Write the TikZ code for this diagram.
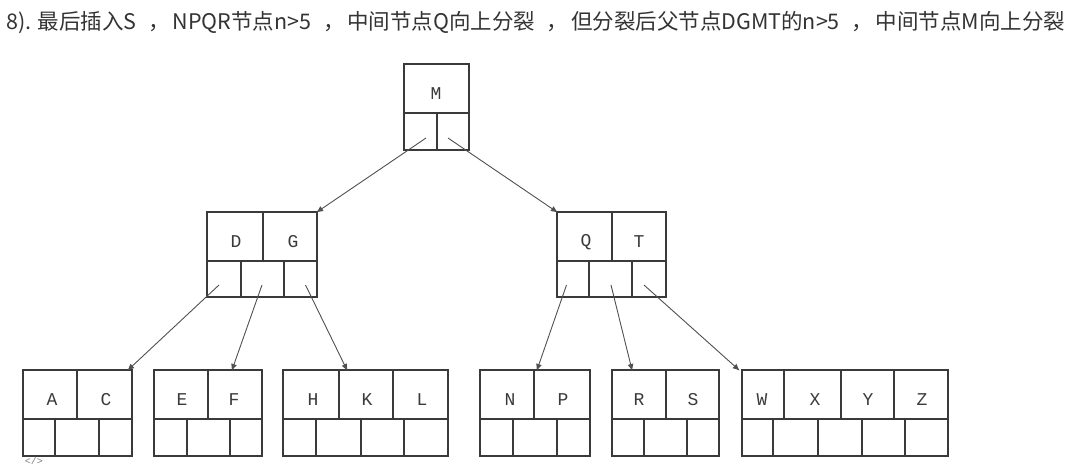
\documentclass[tikz,border=0pt]{standalone}
\usepackage{fontspec}
\usepackage{tikz}
\usetikzlibrary{arrows.meta}
\newfontfamily\cjk{Noto Sans CJK SC}
\newfontfamily\keyfont{Liberation Mono}
\definecolor{inkgray}{HTML}{3A3A3A}
\definecolor{arrowgray}{HTML}{505050}
\definecolor{titlegray}{HTML}{333333}
\newcommand{\zhcomma}{\makebox[1.67em][l]{\kern0.55em，}}

\tikzset{
  bnode/.style={draw=inkgray, line width=1.3pt, inner sep=0pt, outer sep=0pt},
  cellline/.style={draw=inkgray, line width=1.3pt},
  keytext/.style={font=\keyfont\fontsize{18}{18}\selectfont, text=inkgray, inner sep=0pt},
  ptrarrow/.style={draw=arrowgray, line width=0.9pt, -{Latex[length=7pt,width=6pt]}, shorten >=-1pt}
}

\begin{document}
\begin{tikzpicture}[x=1pt,y=-1pt]
\useasboundingbox (0,0) rectangle (1080,467);

%% Title line
\node[anchor=base west, inner sep=0pt, text=titlegray, font=\cjk\fontsize{21.5}{21.5}\selectfont] (title) at (6,29)
  {8). 最后插入S\zhcomma NPQR节点n>5\zhcomma 中间节点Q向上分裂\zhcomma 但分裂后父节点DGMT的n>5\zhcomma 中间节点M向上分裂};

%% Root: M
\node[bnode, minimum width=65pt, minimum height=86pt] (M) at (436.5,107) {};
\draw[cellline] (404,113) -- (469,113);
\draw[cellline] (437,113) -- (437,150);
\node[keytext] at (436,94) {M};
\coordinate (M-1) at (426,138);
\coordinate (M-2) at (448,138);

%% Level 1: D G
\node[bnode, minimum width=110pt, minimum height=85pt] (DG) at (262,254.5) {};
\draw[cellline] (207,261) -- (317,261);
\draw[cellline] (263,212) -- (263,261);
\draw[cellline] (241,261) -- (241,297);
\draw[cellline] (284,261) -- (284,297);
\node[keytext] at (236,242) {D};
\node[keytext] at (293,242) {G};
\coordinate (DG-1) at (219,285);
\coordinate (DG-2) at (262,285);
\coordinate (DG-3) at (305.5,285);

%% Level 1: Q T
\node[bnode, minimum width=109pt, minimum height=85pt] (QT) at (611.5,254.5) {};
\draw[cellline] (557,261) -- (666,261);
\draw[cellline] (612,212) -- (612,261);
\draw[cellline] (589,261) -- (589,297);
\draw[cellline] (632,261) -- (632,297);
\node[keytext] at (586,242) {Q};
\node[keytext] at (639,242) {T};
\coordinate (QT-1) at (566.5,285);
\coordinate (QT-2) at (611,285);
\coordinate (QT-3) at (644,285);

%% Leaves (top 370, middle 419, bottom 456)
% A C
\node[bnode, minimum width=109pt, minimum height=86pt] (AC) at (77.5,413) {};
\draw[cellline] (23,419) -- (132,419);
\draw[cellline] (77,370) -- (77,419);
\draw[cellline] (55,419) -- (55,456);
\draw[cellline] (99,419) -- (99,456);
\node[keytext] at (52,400) {A};
\node[keytext] at (106,400) {C};

% E F
\node[bnode, minimum width=108pt, minimum height=86pt] (EF) at (208,413) {};
\draw[cellline] (154,419) -- (262,419);
\draw[cellline] (208,370) -- (208,419);
\draw[cellline] (187,419) -- (187,456);
\draw[cellline] (230,419) -- (230,456);
\node[keytext] at (182,400) {E};
\node[keytext] at (234,400) {F};

% H K L
\node[bnode, minimum width=165pt, minimum height=86pt] (HKL) at (365.5,413) {};
\draw[cellline] (283,419) -- (448,419);
\draw[cellline] (339,370) -- (339,419);
\draw[cellline] (393,370) -- (393,419);
\draw[cellline] (316,419) -- (316,456);
\draw[cellline] (361,419) -- (361,456);
\draw[cellline] (404,419) -- (404,456);
\node[keytext] at (313,400) {H};
\node[keytext] at (367,400) {K};
\node[keytext] at (422,400) {L};

% N P
\node[bnode, minimum width=110pt, minimum height=86pt] (NP) at (535,413) {};
\draw[cellline] (480,419) -- (590,419);
\draw[cellline] (534,370) -- (534,419);
\draw[cellline] (513,419) -- (513,456);
\draw[cellline] (557,419) -- (557,456);
\node[keytext] at (510,400) {N};
\node[keytext] at (563,400) {P};

% R S
\node[bnode, minimum width=107pt, minimum height=86pt] (RS) at (665.5,413) {};
\draw[cellline] (612,419) -- (719,419);
\draw[cellline] (666,370) -- (666,419);
\draw[cellline] (644,419) -- (644,456);
\draw[cellline] (687,419) -- (687,456);
\node[keytext] at (639,400) {R};
\node[keytext] at (693,400) {S};

% W X Y Z
\node[bnode, minimum width=206pt, minimum height=86pt] (WXYZ) at (845,413) {};
\draw[cellline] (742,419) -- (948,419);
\foreach \xk in {784,841,894}
  \draw[cellline] (\xk,370) -- (\xk,419);
\foreach \xp in {773,818,862,905}
  \draw[cellline] (\xp,419) -- (\xp,456);
\node[keytext] at (762,400) {W};
\node[keytext] at (815,400) {X};
\node[keytext] at (868,400) {Y};
\node[keytext] at (922,400) {Z};

%% Pointers
\draw[ptrarrow] (M-1) -- (DG.north east);
\draw[ptrarrow] (M-2) -- (QT.north west);
\draw[ptrarrow] (DG-1) -- ([xshift=-4pt]AC.north east);
\draw[ptrarrow] (DG-2) -- ([xshift=78pt]EF.north west);
\draw[ptrarrow] (DG-3) -- ([xshift=64pt]HKL.north west);
\draw[ptrarrow] (QT-1) -- ([xshift=57pt]NP.north west);
\draw[ptrarrow] (QT-2) -- ([xshift=20pt]RS.north west);
\draw[ptrarrow] (QT-3) -- ([xshift=-3pt]WXYZ.north west);

%% corner mark
\node[font=\keyfont\fontsize{10}{10}\selectfont, text=gray, inner sep=0pt] (mark) at (34,461) {</>};
\end{tikzpicture}
\end{document}
